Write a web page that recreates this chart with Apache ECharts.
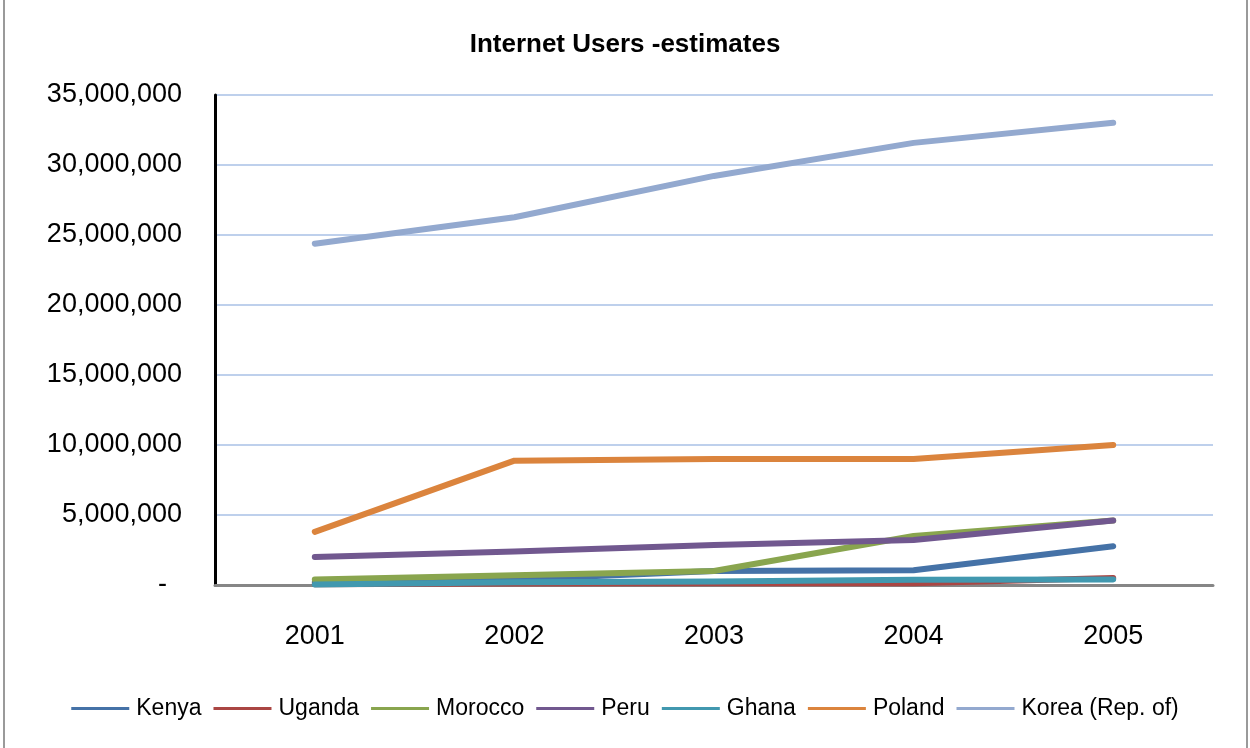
<!DOCTYPE html>
<html>
<head>
<meta charset="utf-8">
<script src="https://cdn.jsdelivr.net/npm/echarts@6/dist/echarts.min.js"></script>
<style>
html,body{margin:0;padding:0;background:#fff;}
#chart{width:1250px;height:748px;}
</style>
</head>
<body>
<div id="chart"></div>
<script>
const years = ['2001', '2002', '2003', '2004', '2005'];
const kenya   = [200000, 400000, 1000000, 1054900, 2770300];
const uganda  = [60000, 100000, 125000, 125000, 500000];
const morocco = [400000, 700000, 1000000, 3500000, 4600000];
const peru    = [2000000, 2400000, 2850000, 3220000, 4600000];
const ghana   = [41000, 200000, 250000, 368000, 401300];
const poland  = [3800000, 8880000, 9000000, 9000000, 10000000];
const korea   = [24380000, 26270000, 29220000, 31580000, 33010000];

const seriesDefs = [
  ['Kenya', kenya, '#4572A7'],
  ['Uganda', uganda, '#AA4643'],
  ['Morocco', morocco, '#89A54E'],
  ['Peru', peru, '#71588F'],
  ['Ghana', ghana, '#4198AF'],
  ['Poland', poland, '#DB843D'],
  ['Korea (Rep. of)', korea, '#93A9CF']
];
const font = 'Liberation Sans, Arial, sans-serif';

const chart = echarts.init(document.getElementById('chart'));
chart.setOption({
  backgroundColor: '#fff',
  animation: false,
  title: {
    text: 'Internet Users -estimates',
    left: 'center',
    top: 27,
    textStyle: { fontFamily: font, fontSize: 26, fontWeight: 'bold', color: '#000' }
  },
  legend: {
    bottom: 23,
    left: 'center',
    itemWidth: 58,
    itemHeight: 3,
    itemGap: 12,
    icon: 'rect',
    textStyle: { fontFamily: font, fontSize: 23, color: '#000', padding: [0, 0, 0, 2] },
    data: seriesDefs.map(d => d[0])
  },
  grid: { left: 215, right: 37, top: 95, bottom: 163, containLabel: false },
  xAxis: {
    type: 'category',
    data: years,
    boundaryGap: true,
    axisLine: { lineStyle: { color: '#868686', width: 3 } },
    axisTick: { show: false },
    axisLabel: { fontFamily: font, fontSize: 27, color: '#000', margin: 38 }
  },
  yAxis: {
    type: 'value',
    min: 0,
    max: 35000000,
    interval: 5000000,
    axisLine: { show: true, lineStyle: { color: '#000', width: 3 } },
    axisTick: { show: false },
    splitLine: { lineStyle: { color: '#a9c1e6', width: 1.5 } },
    axisLabel: {
      fontFamily: font, fontSize: 27, color: '#000', margin: 33,
      formatter: v => v === 0 ? '-\u00a0\u00a0' : v.toLocaleString('en-US')
    }
  },
  graphic: [
    { type: 'rect', shape: { x: 3, y: 0, width: 2, height: 748 }, style: { fill: '#9a9a9a' } },
    { type: 'rect', shape: { x: 1246, y: 0, width: 2, height: 748 }, style: { fill: '#9a9a9a' } }
  ],
  series: seriesDefs.map(d => ({
    name: d[0],
    type: 'line',
    data: d[1],
    color: d[2],
    symbol: 'none',
    lineStyle: { width: 6, color: d[2], cap: 'round', join: 'round' }
  }))
});
</script>
</body>
</html>
